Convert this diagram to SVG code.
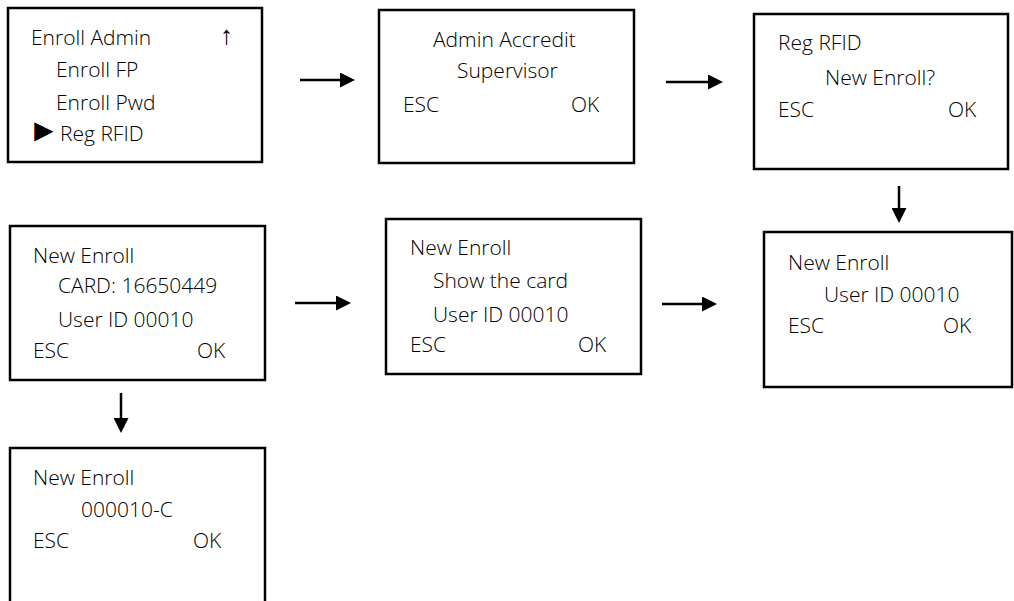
<svg xmlns="http://www.w3.org/2000/svg" width="1014" height="601" viewBox="0 0 1014 601">
  <style>
    .screen { fill: #ffffff; stroke: #000000; stroke-width: 2.5; }
    .t { font-family: "Open Sans", "Liberation Sans", sans-serif; font-weight: 300; font-size: 21px; fill: #000000; }
    .sym { font-family: "Liberation Sans", "DejaVu Sans", sans-serif; fill: #000000; }
    .link { stroke: #000000; stroke-width: 2.5; fill: none; marker-end: url(#head); }
  </style>
  <defs>
    <marker id="head" viewBox="0 0 15 15" markerUnits="userSpaceOnUse" markerWidth="15" markerHeight="15" refX="11" refY="7.5" orient="auto">
      <path d="M0,0 L15,7.5 L0,15 z" fill="#000000"/>
    </marker>
  </defs>
  <rect width="1014" height="601" fill="#ffffff"/>

  <!-- menu screen -->
  <g id="menu">
    <rect class="screen" x="8" y="8" width="254" height="154"/>
    <text class="t" x="31" y="45">Enroll Admin</text>
    <text class="sym" x="220" y="44" font-size="26">↑</text>
    <text class="t" x="56" y="77">Enroll FP</text>
    <text class="t" x="56" y="110">Enroll Pwd</text>
    <text class="sym" x="28" y="141" font-size="32">►</text>
    <text class="t" x="60" y="141">Reg RFID</text>
  </g>

  <!-- admin check -->
  <g id="admin-accredit">
    <rect class="screen" x="379" y="10" width="255" height="153"/>
    <text class="t" x="433" y="47">Admin Accredit</text>
    <text class="t" x="457" y="78">Supervisor</text>
    <text class="t" x="403" y="112">ESC</text>
    <text class="t" x="571" y="112">OK</text>
  </g>

  <!-- confirm new card -->
  <g id="reg-rfid">
    <rect class="screen" x="754" y="14" width="254" height="155"/>
    <text class="t" x="778" y="50">Reg RFID</text>
    <text class="t" x="825" y="85">New Enroll?</text>
    <text class="t" x="778" y="117">ESC</text>
    <text class="t" x="948" y="117">OK</text>
  </g>

  <!-- card read -->
  <g id="card-read">
    <rect class="screen" x="10" y="226" width="255" height="154"/>
    <text class="t" x="33" y="263">New Enroll</text>
    <text class="t" x="58" y="293">CARD: 16650449</text>
    <text class="t" x="58" y="327">User ID 00010</text>
    <text class="t" x="33" y="358">ESC</text>
    <text class="t" x="197" y="358">OK</text>
  </g>

  <!-- waiting for card -->
  <g id="show-card">
    <rect class="screen" x="386" y="219" width="255" height="155"/>
    <text class="t" x="410" y="255">New Enroll</text>
    <text class="t" x="433" y="288">Show the card</text>
    <text class="t" x="433" y="322">User ID 00010</text>
    <text class="t" x="410" y="352">ESC</text>
    <text class="t" x="578" y="352">OK</text>
  </g>

  <!-- user id entry -->
  <g id="user-id">
    <rect class="screen" x="764" y="232" width="248" height="155"/>
    <text class="t" x="788" y="270">New Enroll</text>
    <text class="t" x="824" y="302">User ID 00010</text>
    <text class="t" x="788" y="333">ESC</text>
    <text class="t" x="943" y="333">OK</text>
  </g>

  <!-- saved record -->
  <g id="saved">
    <rect class="screen" x="10" y="448" width="255" height="180"/>
    <text class="t" x="33" y="485">New Enroll</text>
    <text class="t" x="81" y="517">000010-C</text>
    <text class="t" x="33" y="548">ESC</text>
    <text class="t" x="193" y="548">OK</text>
  </g>

  <g id="connectors">
    <line class="link" x1="300" y1="80" x2="351" y2="80"/>
    <line class="link" x1="666" y1="82" x2="719" y2="82"/>
    <line class="link" x1="899" y1="186" x2="899" y2="219"/>
    <line class="link" x1="662" y1="304" x2="713" y2="304"/>
    <line class="link" x1="295" y1="303" x2="347" y2="303"/>
    <line class="link" x1="121" y1="393" x2="121" y2="429"/>
  </g>
</svg>
